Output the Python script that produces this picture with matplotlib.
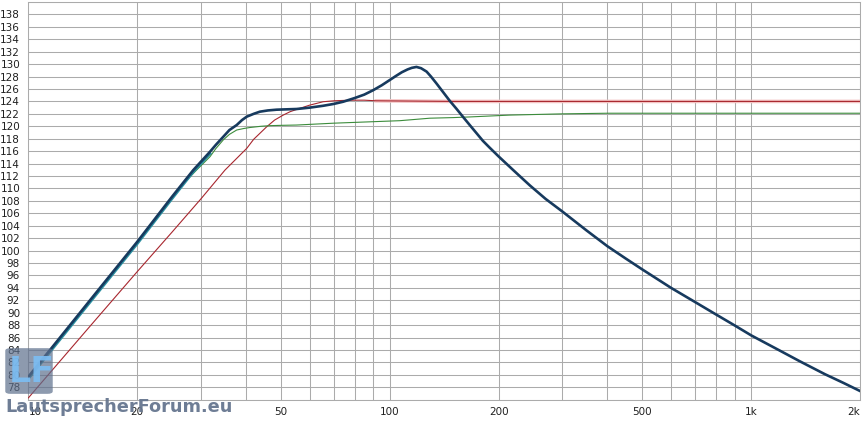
import numpy as np
import matplotlib
matplotlib.use('Agg')
from matplotlib import pyplot as plt
from matplotlib.patches import FancyBboxPatch

# --- data (frequency in Hz, SPL in dB) ---
navy_f = [10, 12, 15, 20, 25, 28.6, 31.8, 33, 34.6, 36, 37.7, 39, 40.2, 42,
          43.7, 46, 48.6, 52, 55.2, 60, 65.4, 70, 74.3, 80, 85, 89.9, 95, 100,
          104, 108, 112, 115, 118.5, 122, 126.4, 130, 134.6, 140, 146.5, 153,
          159.5, 166.4, 173.7, 181, 189, 200, 220, 243.9, 270, 300, 350, 400,
          450, 500, 600, 700, 800, 900, 1000, 1200, 1361, 1600, 1800, 2000]
navy_db = [79.7, 85.4, 92.4, 101.4, 108.7, 112.96, 115.9, 117.0, 118.3, 119.4,
           120.2, 121.0, 121.55, 122.0, 122.35, 122.55, 122.67, 122.73, 122.78,
           123.0, 123.3, 123.6, 123.95, 124.55, 125.1, 125.8, 126.6, 127.45,
           128.1, 128.7, 129.15, 129.4, 129.55, 129.35, 128.8, 128.0, 126.9,
           125.6, 124.1, 122.8, 121.5, 120.2, 118.9, 117.65, 116.55, 115.15,
           112.9, 110.5, 108.3, 106.3, 103.25, 100.7, 98.7, 96.95, 94.0, 91.7,
           89.7, 87.95, 86.35, 83.9, 82.2, 80.1, 78.7, 77.4]

teal_f = [10, 12, 15, 20, 25, 28.6, 31.8]
teal_db = [79.4, 85.1, 92.1, 101.1, 108.4, 112.7, 115.6]

green_f = [10, 12, 15, 20, 25, 27, 29.2, 31.8, 33, 34.6, 36, 37.7, 39.5, 41.0,
           44, 46.6, 50, 55.2, 70, 106.6, 129, 150, 166, 214.6, 300, 400,
           1000, 2000]
green_db = [79.7, 85.3, 92.3, 101.2, 108.4, 110.9, 112.96, 115.1, 116.4,
            117.8, 118.7, 119.4, 119.65, 119.8, 120.0, 120.1, 120.15, 120.2,
            120.5, 120.9, 121.3, 121.4, 121.5, 121.8, 122.0, 122.1, 122.1,
            122.1]

red_f = [10, 15, 20, 25, 30, 35.0, 40.2, 42, 45.6, 48, 50.7, 53, 55.8, 60,
         65.4, 70, 77.6, 85, 91.7, 150, 500, 2000]
red_db = [76.3, 88.2, 96.6, 103.0, 108.3, 112.96, 116.45, 117.9, 119.9, 121.0,
          121.8, 122.35, 122.8, 123.4, 123.95, 124.1, 124.2, 124.2, 124.1,
          124.0, 124.0, 124.0]

x_ticks = [10, 20, 50, 100, 200, 500, 1000, 2000]
x_labels = ['10', '20', '50', '100', '200', '500', '1k', '2k']
y_ticks = list(range(78, 139, 2))

W, H = 863, 423
fig = plt.figure(figsize=(W / 100., H / 100.), dpi=100)
ax = fig.add_axes([28.4 / W, (H - 399.7) / H, (860 - 28.4) / W, 397.7 / H])

grid_col = '#ababab'
ax.set_xscale('log')
ax.set_xlim(10, 2000)
ax.set_ylim(76, 140)

minor = [f for d in (10, 100, 1000) for f in np.arange(2, 10) * d if f < 2000]
ax.set_xticks(minor, minor=True)
ax.set_xticks(x_ticks)
ax.set_xticklabels(x_labels)
ax.set_xticklabels([], minor=True)
ax.set_yticks(range(76, 141, 2), minor=True)
ax.set_yticks(y_ticks)
ax.set_yticklabels([str(v) for v in y_ticks])

ax.grid(True, which='both', color=grid_col, lw=0.75)
ax.set_axisbelow(True)
ax.tick_params(which='both', length=0, labelsize=7.5, colors='#202020')
ax.tick_params(axis='y', pad=6)
ax.tick_params(axis='x', pad=5)
xl = ax.get_xticklabels()
xl[0].set_horizontalalignment('left')
xl[-1].set_horizontalalignment('right')
for s in ax.spines.values():
    s.set_color(grid_col)
    s.set_linewidth(0.75)

# curves
ax.plot(red_f[18:], red_db[18:], color='#f3c4c4', lw=2.6, zorder=2)
ax.plot(red_f, red_db, color='#a8262e', lw=0.8, zorder=3)
ax.plot(green_f, green_db, color='#3c8c3c', lw=0.8, zorder=3)
ax.plot(teal_f, teal_db, color='#2a8fa0', lw=2.0, zorder=4)
ax.plot(navy_f, navy_db, color='#173a5e', lw=1.9, zorder=5,
        solid_joinstyle='round')

# watermark
box = FancyBboxPatch((7 / W, (H - 393) / H), 44 / W, 44 / H,
                     boxstyle='round,pad=0.002,rounding_size=0.006',
                     transform=fig.transFigure, facecolor='#5d6f8c',
                     edgecolor='none', alpha=0.7, zorder=10)
fig.patches.append(box)
fig.text(9 / W, (H - 372) / H, 'LF', color='#7cbef4', fontsize=25,
         fontweight='bold', ha='left', va='center', alpha=0.9, zorder=11)
fig.text(5 / W, (H - 411.7) / H, 'LautsprecherForum.eu', color='#66768f',
         fontsize=12.8, fontweight='bold', ha='left', va='baseline',
         alpha=0.95, zorder=11)

fig.savefig('out.png', dpi=100, facecolor='white')
